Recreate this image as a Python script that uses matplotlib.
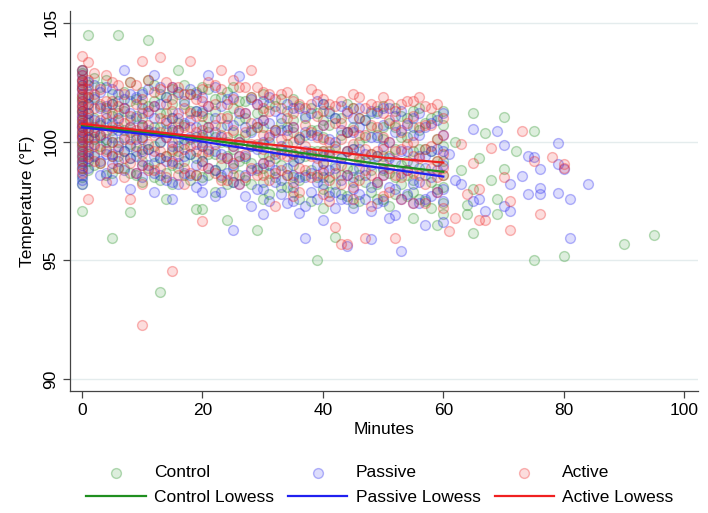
import matplotlib
matplotlib.use('Agg')
import matplotlib.pyplot as plt
from matplotlib.colors import to_rgba

plt.rcParams['font.family'] = ['Liberation Sans', 'DejaVu Sans']

# readings per minute: (minute, [temperatures])
control_cols = [
    (0, [103.0, 102.6, 102.2, 101.8, 101.5, 101.2, 100.9, 100.6, 100.3, 100.0, 99.7, 99.3, 98.9, 98.5, 97.1]),
    (1, [104.5, 102.4, 101.6, 100.8, 100.2, 99.5, 98.8]), (2, [101.9, 101.0, 100.4, 99.0]),
    (3, [102.3, 100.7, 99.8]), (4, [101.4, 100.1, 98.6]), (5, [102.0, 101.1, 100.5, 99.4, 95.95]),
    (6, [104.5, 101.7, 100.0, 98.9]), (7, [101.3, 99.6]), (8, [102.5, 100.9, 99.9, 98.7, 97.05]),
    (9, [101.8, 100.3]), (10, [102.1, 101.0, 100.2, 99.2, 98.3]), (11, [104.3, 101.5, 99.7]),
    (12, [102.4, 100.6, 99.1]), (13, [101.2, 100.0, 98.4, 93.65]), (14, [101.9, 99.4, 97.6]),
    (15, [102.2, 101.0, 100.4, 99.0, 98.2]), (16, [103.0, 100.8, 99.6]), (17, [101.6, 99.9, 98.6]),
    (18, [102.0, 100.1]), (19, [101.3, 99.3, 97.15]), (20, [102.3, 100.7, 99.8, 98.5, 97.15]),
    (21, [101.0, 99.5]), (22, [101.8, 100.2, 98.8]), (23, [100.6, 99.0]), (24, [102.1, 100.0, 98.2, 96.7]),
    (25, [101.4, 99.7, 98.9]), (26, [100.9, 99.2]), (27, [101.7, 100.3, 98.4]), (28, [100.5, 99.1]),
    (29, [101.2, 99.8, 96.3]), (30, [102.0, 100.6, 99.5, 98.3, 97.6]), (31, [100.0, 98.7]),
    (32, [101.5, 99.3]), (33, [100.8, 98.1]), (34, [101.3, 99.9, 98.6]), (35, [101.8, 100.4, 99.0, 97.9]),
    (36, [100.1, 98.4]), (37, [101.0, 99.4]), (38, [100.5, 98.8, 97.5]), (39, [101.2, 99.6, 95.0]),
    (40, [101.6, 100.2, 99.1, 98.0, 97.2]), (41, [100.7, 98.5]), (42, [99.8, 96.0]),
    (43, [101.0, 99.3, 97.8]), (44, [100.4, 98.9]), (45, [101.4, 99.7, 98.3, 97.4]), (46, [100.0, 98.6]),
    (47, [100.9, 99.2]), (48, [101.2, 99.5, 97.9]), (49, [100.3, 98.2]), (50, [101.5, 100.1, 98.8, 97.6]),
    (51, [99.4, 97.3]), (52, [100.6, 98.5]), (53, [101.1, 99.0]), (54, [100.2, 97.7]),
    (55, [101.3, 99.6, 98.4, 96.8]), (56, [100.5, 98.9]), (57, [99.7, 97.5]), (58, [101.0, 98.3]),
    (59, [100.1, 96.5]), (60, [101.3, 99.8, 98.6, 97.4, 96.95]), (62, [100.0]), (63, [98.8]),
    (64, [96.95, 97.35]), (65, [101.2, 98.0, 96.15]), (66, [99.3]), (67, [100.35]), (68, [98.4]),
    (69, [97.6, 96.95]), (70, [101.05, 98.86]), (72, [99.6]), (75, [100.45, 95.0]), (80, [95.2]),
    (90, [95.7]), (95, [96.05]),
]
control_more = [
    (0, [102.9, 102.4, 101.9, 101.3, 100.8, 100.4, 99.9, 99.5, 99.1, 98.2]),
    (1, [101.9, 101.2, 100.5, 99.9, 99.2]), (2, [102.7, 100.1, 99.5]), (3, [101.5, 100.2, 99.1]),
    (4, [102.6, 100.8, 99.7]), (5, [101.6, 100.0, 98.7]), (6, [101.2, 100.6, 99.4]), (7, [102.1, 100.5, 98.9]),
    (8, [101.7, 100.4, 99.3]), (9, [101.1, 99.6, 98.6]), (10, [101.6, 100.6, 99.7]), (11, [102.6, 100.4, 98.9]),
    (12, [101.7, 99.8, 98.5]), (13, [102.0, 100.6, 99.3]), (14, [101.2, 100.5, 98.7]), (15, [101.6, 99.6]),
    (16, [102.0, 100.1, 98.9]), (17, [102.4, 100.7, 99.2]), (18, [101.3, 99.5, 98.4]), (19, [102.1, 100.2, 98.6]),
    (20, [101.2, 100.2, 99.2]), (21, [102.2, 100.4, 98.6]), (22, [101.3, 99.5, 97.9]), (23, [101.9, 100.0, 98.5]),
    (24, [101.1, 99.4]), (25, [102.3, 100.4, 98.3]), (26, [101.7, 100.1, 98.6]), (27, [101.0, 99.3]),
    (28, [101.9, 99.8, 98.2]), (29, [100.6, 98.8]), (30, [101.3, 99.9, 98.9]), (31, [101.6, 99.4, 97.8]),
    (32, [100.5, 98.5]), (33, [101.8, 99.7, 99.0]), (34, [100.6, 98.1]), (35, [100.9, 99.5, 98.5]),
    (36, [101.5, 99.3, 97.6]), (37, [100.3, 98.6]), (38, [101.4, 99.6]), (39, [100.5, 98.5]),
    (40, [100.9, 99.6, 98.5]), (41, [101.3, 99.6, 97.9]), (42, [101.0, 99.0, 98.2]), (43, [100.3, 98.6]),
    (44, [101.6, 99.6, 97.7]), (45, [100.6, 98.8]), (46, [101.0, 99.3, 97.5]), (47, [100.2, 98.3]),
    (48, [100.6, 98.8]), (49, [101.3, 99.4, 97.6]), (50, [100.6, 99.4]), (51, [100.8, 98.7]),
    (52, [101.4, 99.7, 97.8]), (53, [100.2, 98.2]), (54, [101.0, 99.2, 98.6]), (55, [100.6, 97.9]),
    (56, [101.4, 99.7, 97.6]), (57, [100.8, 98.6]), (58, [99.6, 97.2]), (59, [101.1, 99.2, 98.0]),
    (60, [100.7, 99.2, 98.1]),
]

passive_cols = [
    (0, [103.0, 102.8, 102.4, 102.0, 101.7, 101.3, 101.0, 100.7, 100.4, 100.1, 99.8, 99.4, 99.0, 98.6, 98.2]),
    (1, [102.5, 101.2, 100.5, 99.6, 98.9]), (2, [101.8, 100.9, 99.9]), (3, [102.1, 100.3, 99.2]),
    (4, [101.5, 100.0, 98.7]), (5, [102.2, 100.8, 99.5, 98.4]), (6, [101.0, 99.8]),
    (7, [103.0, 101.4, 100.2, 98.8]), (8, [100.6, 99.3, 98.0]), (9, [101.9, 100.1]),
    (10, [102.0, 100.7, 99.6, 98.5]), (11, [101.2, 99.0]), (12, [102.8, 100.4, 99.4, 97.9]),
    (13, [101.6, 100.0, 98.6]), (14, [100.8, 99.2]), (15, [102.3, 101.0, 99.8, 98.3, 97.6]),
    (16, [100.5, 99.1]), (17, [101.7, 100.1, 98.7]), (18, [100.9, 99.5]), (19, [102.0, 99.9, 98.1]),
    (20, [101.3, 100.3, 99.2, 98.4]), (21, [102.8, 100.6, 98.9]), (22, [101.0, 99.6, 97.7]),
    (23, [100.2, 98.6]), (24, [101.8, 99.3]), (25, [100.7, 99.0, 96.3]), (26, [102.75, 100.0, 98.2]),
    (27, [101.2, 99.4]), (28, [100.4, 98.8, 97.3]), (29, [101.6, 99.7]), (30, [100.9, 99.1, 98.0, 96.95]),
    (31, [101.9, 100.2]), (32, [99.5, 98.3]), (33, [101.0, 99.8, 97.8]), (34, [100.5, 98.9, 97.4]),
    (35, [101.4, 99.2, 98.1]), (36, [100.1, 98.5, 97.0]), (37, [101.1, 99.6, 95.95]), (38, [100.3, 98.7]),
    (39, [101.7, 99.0, 97.6]), (40, [100.7, 99.4, 98.2, 96.7]), (41, [101.2, 98.8]), (42, [100.0, 97.9]),
    (43, [101.5, 99.3, 98.4]), (44, [100.4, 98.6, 95.6]), (45, [101.0, 99.7, 98.0, 97.2]),
    (46, [100.6, 98.9]), (47, [99.5, 97.6]), (48, [101.3, 99.0, 95.9]), (49, [100.2, 98.3]),
    (50, [101.4, 99.8, 98.6, 97.5]), (51, [100.0, 98.1]), (52, [101.1, 99.2, 96.9]),
    (53, [100.5, 98.7, 95.4]), (54, [99.6, 97.8]), (55, [101.0, 99.1, 98.2]), (56, [100.3, 97.4]),
    (57, [99.4, 96.5]), (58, [100.8, 98.5]), (59, [99.7, 97.9]), (60, [101.2, 99.0, 98.0, 96.6]),
    (61, [99.5]), (62, [98.4]), (63, [98.2]), (65, [100.55, 97.5]), (66, [97.6]), (67, [97.1]),
    (69, [100.45]), (70, [99.87, 97.3]), (71, [98.2, 97.1]), (73, [98.57]), (74, [99.4, 97.8]),
    (75, [99.36]), (76, [98.86, 98.05, 97.8]), (79, [99.96, 99.07, 97.85]), (80, [98.86]),
    (81, [97.6, 95.95]), (84, [98.2]),
]
passive_more = [
    (0, [102.6, 102.2, 101.5, 101.1, 100.6, 100.2, 99.6, 99.2, 98.8, 98.4]),
    (1, [102.0, 101.6, 100.9, 100.1, 99.3]), (2, [102.4, 100.4, 99.4]), (3, [101.4, 100.8, 98.6]),
    (4, [102.3, 101.0, 99.5]), (5, [101.6, 100.2, 99.1]), (6, [102.0, 100.5, 99.2]), (7, [101.8, 99.6]),
    (8, [102.0, 101.2, 99.8]), (9, [101.0, 99.4, 98.7]), (10, [101.4, 100.1, 99.0]), (11, [102.2, 100.5, 99.7]),
    (12, [101.5, 101.0, 98.7]), (13, [102.3, 99.3]), (14, [101.9, 100.2, 98.4]), (15, [100.5, 99.2]),
    (16, [102.1, 101.2, 99.8, 98.2]), (17, [100.8, 99.4]), (18, [102.2, 100.2, 98.6]), (19, [101.3, 100.6, 99.0]),
    (20, [101.9, 99.8, 97.9]), (21, [101.5, 99.7]), (22, [102.3, 100.4, 98.8]), (23, [101.5, 99.5, 97.9]),
    (24, [100.7, 98.7]), (25, [101.9, 99.8, 98.3]), (26, [101.2, 99.4]), (27, [100.6, 98.6, 97.7]),
    (28, [101.8, 99.8]), (29, [100.8, 98.9, 98.0]), (30, [101.7, 100.0]), (31, [100.8, 99.0, 97.5]),
    (32, [101.3, 100.4, 98.8]), (33, [100.5, 98.4]), (34, [101.6, 99.6]), (35, [100.6, 98.6, 97.5]),
    (36, [101.4, 99.3]), (37, [100.4, 98.5, 97.3]), (38, [101.2, 99.5, 97.9]), (39, [100.3, 98.3]),
    (40, [101.6, 98.8]), (41, [100.1, 99.5, 97.7]), (42, [101.0, 98.9, 97.2]), (43, [100.5, 97.6]),
    (44, [101.3, 99.6, 97.6]), (45, [100.4, 98.5]), (46, [101.4, 99.7, 97.8]), (47, [100.9, 98.6]),
    (48, [100.2, 98.1, 97.1]), (49, [101.2, 99.4, 97.4]), (50, [100.7, 98.9]), (51, [101.4, 99.3, 96.8]),
    (52, [100.4, 98.0]), (53, [101.3, 99.6, 97.6]), (54, [100.7, 98.8]), (55, [100.3, 97.4]),
    (56, [101.2, 99.4, 98.3]), (57, [100.6, 98.9, 97.6]), (58, [99.6, 97.7]), (59, [100.9, 98.8]),
    (60, [100.3, 99.6, 97.5]),
]

active_cols = [
    (0, [103.6, 103.0, 102.6, 102.3, 102.0, 101.7, 101.4, 101.1, 100.9, 100.6, 100.3, 100.0, 99.6, 99.2, 98.7]),
    (1, [103.35, 101.9, 101.0, 100.2, 99.4, 97.6]), (2, [102.9, 101.4, 100.6, 99.8]),
    (3, [102.2, 100.9, 99.1]), (4, [101.7, 100.4, 98.3]), (5, [102.5, 101.2, 100.0, 98.9]),
    (6, [101.5, 99.7]), (7, [102.0, 100.8, 99.3]), (8, [101.1, 100.1, 97.6]), (9, [102.4, 100.5]),
    (10, [103.4, 101.8, 100.7, 99.5, 98.2, 92.3]), (11, [101.3, 99.9]), (12, [102.1, 100.3, 98.8]),
    (13, [103.56, 101.0, 99.6]), (14, [101.6, 100.2, 98.5]), (15, [102.3, 101.3, 100.0, 99.1, 94.55]),
    (16, [101.0, 99.4]), (17, [102.0, 100.6, 98.9]), (18, [103.4, 101.2, 99.8]), (19, [100.4, 98.6]),
    (20, [102.2, 101.1, 100.0, 99.0, 96.65]), (21, [101.5, 99.6]), (22, [102.4, 100.7, 98.7]),
    (23, [103.0, 101.0, 99.3]), (24, [100.2, 98.4]), (25, [101.8, 100.5, 99.1]),
    (26, [102.3, 100.0, 98.2]), (27, [101.2, 99.5]), (28, [103.0, 100.8, 98.9]), (29, [101.6, 99.9]),
    (30, [102.1, 100.9, 99.7, 98.6]), (31, [101.3, 99.2]), (32, [100.5, 97.3]), (33, [102.0, 100.1, 98.8]),
    (34, [101.0, 99.4]), (35, [101.7, 100.6, 99.5, 98.3]), (36, [100.2, 98.9]), (37, [101.4, 99.8]),
    (38, [102.2, 100.4, 98.5]), (39, [101.1, 99.3]), (40, [101.8, 100.7, 99.6, 98.7, 97.8]),
    (41, [100.0, 98.4]), (42, [101.5, 99.7, 96.4]), (43, [100.8, 99.0, 95.7]), (44, [101.2, 98.6, 95.7]),
    (45, [102.0, 100.5, 99.4, 98.1]), (46, [101.0, 99.2]), (47, [100.3, 98.8, 95.95]), (48, [101.6, 99.5]),
    (49, [100.6, 98.3]), (50, [101.9, 100.2, 99.1, 97.7]), (51, [100.9, 98.9]), (52, [101.3, 99.6, 95.95]),
    (53, [100.4, 98.5]), (54, [101.7, 99.9]), (55, [101.1, 100.0, 98.7, 97.4]), (56, [101.9, 99.3]),
    (57, [100.7, 98.2]), (58, [101.4, 99.8]), (59, [100.1, 97.9]), (60, [101.0, 99.5, 98.6, 97.2]),
    (61, [96.25]), (62, [96.8]), (63, [99.9]), (64, [97.8]), (65, [99.08]), (66, [98.0, 96.7]),
    (67, [96.7]), (68, [99.75]), (70, [98.5]), (71, [97.5, 96.27]), (73, [100.45]), (75, [99.2]),
    (76, [96.95]), (78, [99.36]), (80, [99.07, 98.9]),
]
active_more = [
    (0, [102.8, 102.5, 102.2, 101.9, 101.6, 101.3, 100.8, 100.5, 100.2, 99.8, 99.4, 98.9]),
    (1, [102.6, 102.2, 101.4, 100.6, 99.8]), (2, [102.0, 100.2, 99.2]), (3, [101.6, 100.3, 99.7]),
    (4, [102.8, 101.2, 99.6]), (5, [101.7, 100.6, 99.4]), (6, [102.4, 100.9, 98.9]), (7, [101.4, 100.1, 98.5]),
    (8, [102.5, 100.6, 99.1]), (9, [101.6, 99.8, 98.7]), (10, [101.2, 100.2, 99.0]), (11, [102.6, 100.7, 98.8]),
    (12, [101.5, 99.6]), (13, [102.2, 100.4, 98.9]), (14, [102.5, 100.9, 99.4]), (15, [101.8, 100.6, 99.7]),
    (16, [102.3, 100.5, 98.6]), (17, [101.4, 99.7, 98.2]), (18, [102.0, 100.6, 98.7]), (19, [101.8, 101.1, 99.6]),
    (20, [101.7, 100.5, 99.5]), (21, [102.5, 100.6, 98.9]), (22, [101.6, 99.9]), (23, [102.2, 100.3, 98.4]),
    (24, [101.6, 101.0, 99.3]), (25, [102.6, 99.8, 98.6]), (26, [101.3, 99.4]), (27, [102.3, 100.4, 98.5]),
    (28, [101.9, 99.9]), (29, [102.3, 100.6, 98.6]), (30, [101.4, 100.3, 99.1]), (31, [102.0, 100.3, 98.4]),
    (32, [101.8, 99.6, 98.7]), (33, [101.4, 99.5]), (34, [102.1, 100.3, 98.6]), (35, [101.2, 100.0, 97.7]),
    (36, [101.6, 99.6, 97.9]), (37, [100.7, 98.8]), (38, [101.6, 99.4]), (39, [102.0, 100.2, 98.6]),
    (40, [101.3, 100.1, 99.1]), (41, [101.6, 99.4, 97.5]), (42, [100.8, 98.7]), (43, [101.7, 100.1, 98.2]),
    (44, [100.4, 99.6]), (45, [101.4, 99.9, 97.6]), (46, [101.9, 100.3, 98.4]), (47, [101.4, 99.7]),
    (48, [100.7, 98.6, 97.3]), (49, [101.5, 99.6]), (50, [101.2, 99.7, 98.6]), (51, [101.6, 100.0, 97.9]),
    (52, [100.7, 98.6]), (53, [101.6, 99.7, 97.6]), (54, [100.8, 98.8]), (55, [101.7, 99.4]),
    (56, [100.6, 98.6]), (57, [101.5, 99.7, 97.4]), (58, [100.7, 98.9]), (59, [101.6, 99.2, 98.5]),
    (60, [100.3, 98.9]),
]

# lowess curves
lowess_min = [0, 16, 33, 50, 60]
control_lowess = [100.65, 100.25, 99.65, 99.03, 98.73]
passive_lowess = [100.6, 100.16, 99.48, 98.88, 98.53]
active_lowess = [100.75, 100.3, 99.83, 99.33, 99.12]


def expand(cols):
    xs, ys = [], []
    for m, temps in cols:
        for t in temps:
            xs.append(m)
            ys.append(t)
    return xs, ys


fig = plt.figure(figsize=(7.08, 5.13), dpi=100)
ax = fig.add_axes([70 / 708, 1 - 391 / 513, 628 / 708, 380 / 513])

groups = [
    ('Control', control_cols + control_more, control_lowess, '#1f8f1f'),
    ('Passive', passive_cols + passive_more, passive_lowess, '#2020f0'),
    ('Active', active_cols + active_more, active_lowess, '#f02020'),
]

for name, cols, lw, c in groups:
    xs, ys = expand(cols)
    ax.scatter(xs, ys, s=50, facecolors=[to_rgba(c, 0.15)], edgecolors=[to_rgba(c, 0.32)],
               linewidths=1.0, label=name, zorder=2)

for name, cols, lw, c in groups:
    ax.plot(lowess_min, lw, color=c, lw=1.6, label=name + ' Lowess', zorder=3)

ax.set_xlim(-2, 102.3)
ax.set_ylim(89.5, 105.5)
ax.set_xticks([0, 20, 40, 60, 80, 100])
ax.set_yticks([90, 95, 100, 105])
ax.grid(axis='y', color='#e4eced', lw=1)
ax.set_axisbelow(True)
for s in ['top', 'right']:
    ax.spines[s].set_visible(False)
for s in ['left', 'bottom']:
    ax.spines[s].set_color('#444444')
    ax.spines[s].set_linewidth(0.9)
ax.tick_params(direction='out', length=5, width=0.9, color='#444444', labelsize=12.5)
for lab in ax.get_yticklabels():
    lab.set_rotation(90)
    lab.set_va('center')
ax.set_xlabel('Minutes', fontsize=12.5, labelpad=3)
ax.set_ylabel('Temperature (°F)', fontsize=12.5, labelpad=6)

handles, labels = ax.get_legend_handles_labels()
order = [0, 3, 1, 4, 2, 5]
fig.legend([handles[i] for i in order], [labels[i] for i in order], ncol=3, frameon=False,
           loc='center', bbox_to_anchor=(380 / 708, 1 - 485 / 513), fontsize=12.5,
           handlelength=3.4, handletextpad=0.5, columnspacing=0.8, labelspacing=0.55,
           scatterpoints=1)

fig.savefig('out.png', dpi=100)
